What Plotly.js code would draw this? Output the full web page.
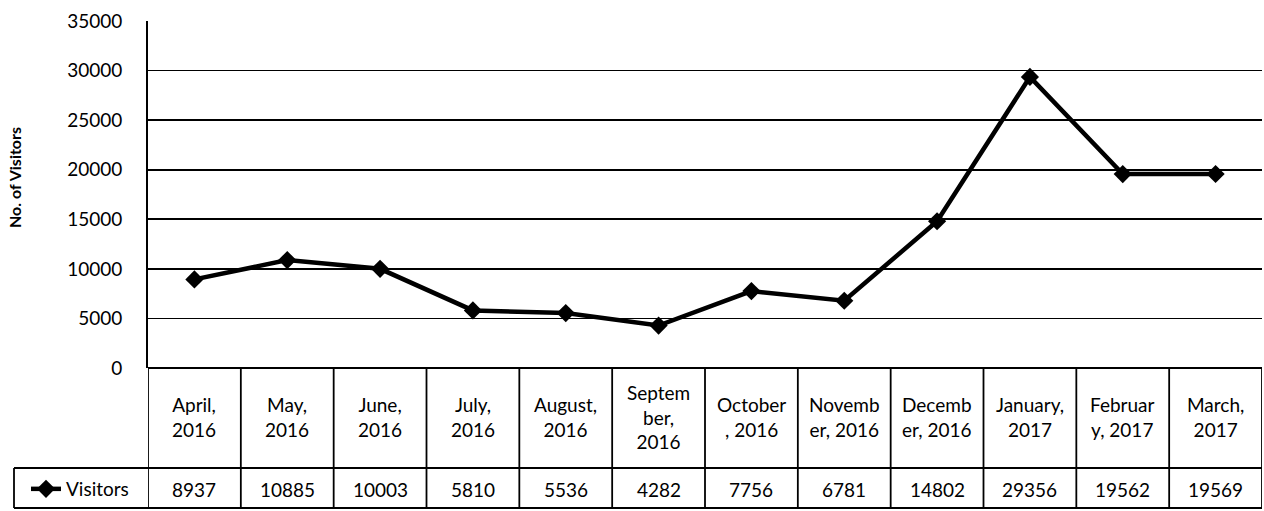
<!DOCTYPE html>
<html>
<head>
<meta charset="utf-8">
<script src="https://cdn.plot.ly/plotly-3.0.1.min.js"></script>
<style>html,body{margin:0;padding:0;background:#fff;}#chart{width:1264px;height:511px;}</style>
</head>
<body>
<div id="chart"></div>
<script>
var categories = ["April,<br>2016","May,<br>2016","June,<br>2016","July,<br>2016","August,<br>2016","Septem<br>ber,<br>2016","October<br>, 2016","Novemb<br>er, 2016","Decemb<br>er, 2016","January,<br>2017","Februar<br>y, 2017","March,<br>2017"];
var visitors = [8937,10885,10003,5810,5536,4282,7756,6781,14802,29356,19562,19569];
var seriesName = "Visitors";
var yTicks = [0,5000,10000,15000,20000,25000,30000,35000];
var yTitle = "No. of Visitors";

var FONT = "Lato, 'Open Sans', sans-serif";
var W = 1264, H = 511;
var plotL = 148, plotR = 1262, plotT = 21, plotB = 368;
var plotH = plotB - plotT, plotW = plotR - plotL;
function py(px){ return (plotB - px) / plotH; }
function pxX(px){ return (px - plotL) / plotW; }

var idx = categories.map(function(_, i){ return i; });

var trace = {
  x: idx, y: visitors, name: seriesName, type: 'scatter', mode: 'lines+markers',
  line: {color: '#000', width: 4.5},
  marker: {symbol: 'diamond', size: 14, color: '#000'},
  showlegend: true
};

var shapes = [];
var headerBottom = 468, tableBottom = 508;
for (var i = 0; i <= categories.length; i++) {
  shapes.push({type:'line', xref:'x', yref:'paper', x0:i-0.5, x1:i-0.5, y0:py(plotB), y1:py(tableBottom), line:{color:'#000', width:1.8}});
}
shapes.push({type:'line', xref:'paper', yref:'paper', x0:pxX(14), x1:1, y0:py(headerBottom), y1:py(headerBottom), line:{color:'#000', width:1.8}});
shapes.push({type:'line', xref:'paper', yref:'paper', x0:pxX(14), x1:1, y0:py(tableBottom), y1:py(tableBottom), line:{color:'#000', width:1.8}});
shapes.push({type:'line', xref:'paper', yref:'paper', x0:pxX(14), x1:pxX(14), y0:py(headerBottom), y1:py(tableBottom), line:{color:'#000', width:1.8}});

var annotations = [];
categories.forEach(function(c, i){
  annotations.push({x:i, y:py(417), xref:'x', yref:'paper', text:c, showarrow:false, xanchor:'center', yanchor:'middle', font:{family:FONT, size:19, color:'#000'}});
  annotations.push({x:i, y:py(489), xref:'x', yref:'paper', text:String(visitors[i]), showarrow:false, xanchor:'center', yanchor:'middle', font:{family:FONT, size:19, color:'#000'}});
});
annotations.push({x:pxX(14), y:py(178), xref:'paper', yref:'paper', text:'<b>'+yTitle+'</b>', showarrow:false, textangle:-90, xanchor:'center', yanchor:'middle', font:{family:FONT, size:16, color:'#000'}});

var layout = {
  width: W, height: H,
  margin: {l: plotL, r: W - plotR, t: plotT, b: H - plotB, pad: 0},
  paper_bgcolor: '#fff', plot_bgcolor: '#fff',
  font: {family: FONT, size: 19, color: '#000'},
  xaxis: {range: [-0.5, categories.length - 0.5], showgrid: false, zeroline: false, showticklabels: false, ticks: '', showline: false, fixedrange: true},
  yaxis: {range: [0, 35000], tickvals: yTicks, ticktext: yTicks.map(String), showgrid: true, gridcolor: '#000', gridwidth: 1.8,
          zeroline: true, zerolinecolor: '#000', zerolinewidth: 1.8, showline: true, linecolor: '#000', linewidth: 1.8,
          ticks: '', ticklabelstandoff: 20, tickfont: {family: FONT, size: 19, color: '#000'}, fixedrange: true},
  showlegend: true,
  legend: {x: pxX(26), y: py(489), xanchor: 'left', yanchor: 'middle', bgcolor: 'rgba(0,0,0,0)', borderwidth: 0,
           font: {family: FONT, size: 19, color: '#000'}, itemwidth: 30, tracegroupgap: 0},
  shapes: shapes,
  annotations: annotations
};

Plotly.newPlot('chart', [trace], layout, {displayModeBar: false, staticPlot: true});
</script>
</body>
</html>
